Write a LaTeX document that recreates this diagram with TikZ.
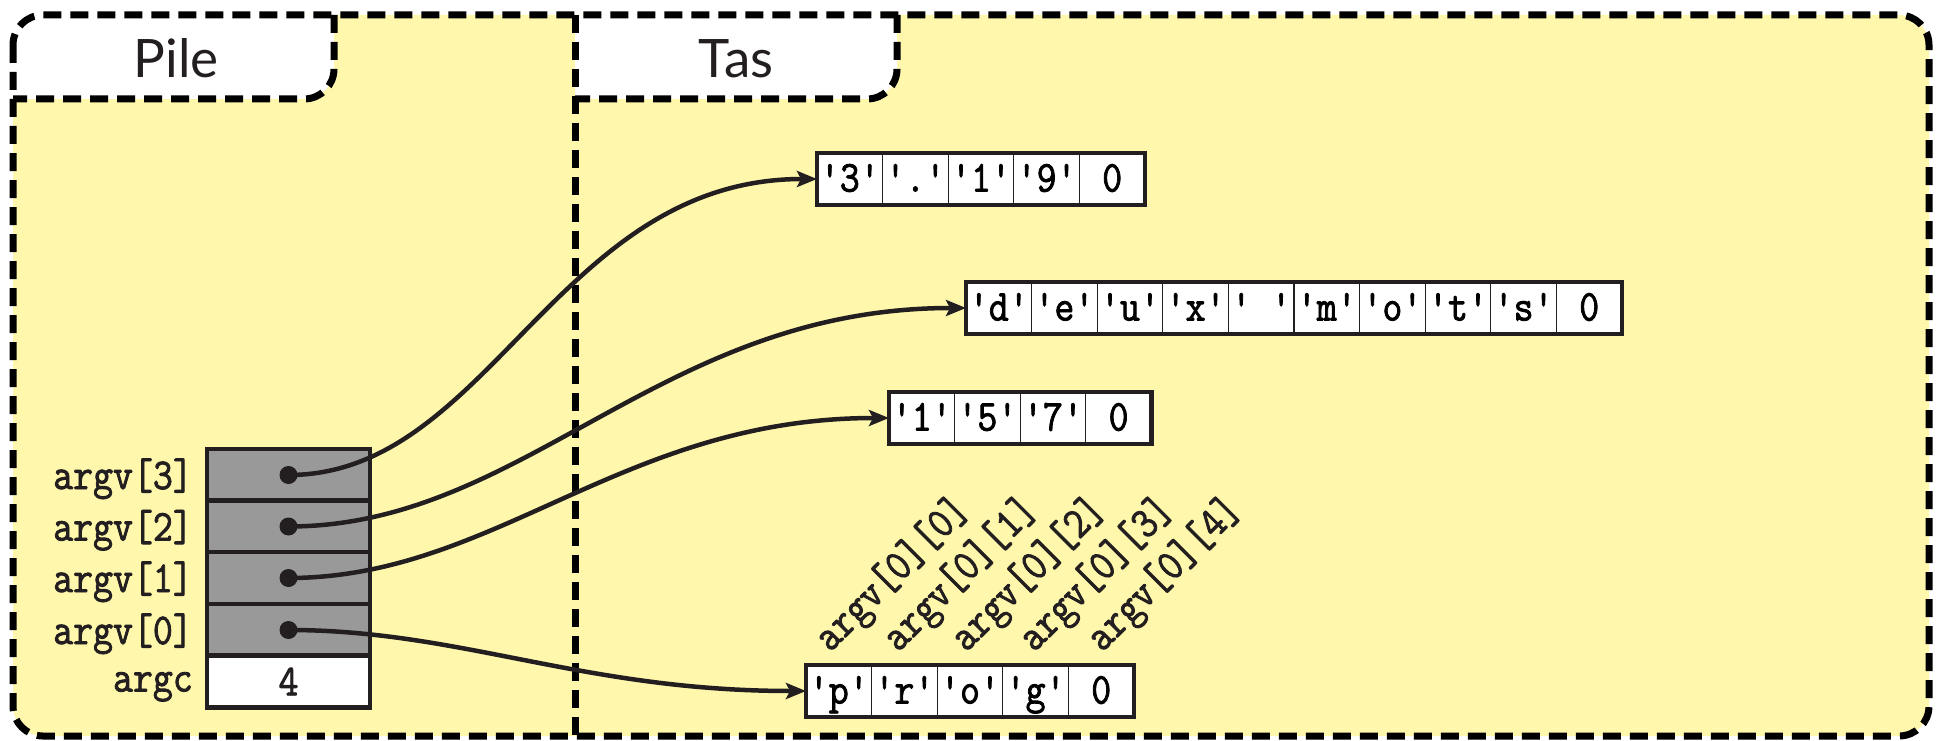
\documentclass[tikz,border=0pt]{standalone}
\usepackage{fontspec}
\usepackage{graphicx}
\setmonofont{Latin Modern Mono}[FakeBold=2]
\newfontfamily\tabfont{Lato}
\usetikzlibrary{arrows.meta}

\definecolor{heap}{RGB}{255,247,172}
\definecolor{ink}{RGB}{35,31,32}
\definecolor{slot}{RGB}{153,153,153}

% typewriter text, slightly narrowed
\newcommand\mono[1]{\scalebox{0.88}[1]{#1}}
\newcommand\chr[1]{\textquotesingle#1\textquotesingle}

\tikzset{
  zone/.style={draw=black, line width=7pt, dash pattern=on 18pt off 9pt},
  tt/.style={font=\fontsize{44}{46}\selectfont\ttfamily},
  slotcell/.style={draw=ink, line width=4.5pt, fill=slot, minimum width=163pt,
    minimum height=51.6pt, inner sep=0pt, outer sep=0pt},
  charcell/.style={draw=ink, line width=1.2pt, fill=white, minimum width=65.6pt,
    minimum height=52pt, inner sep=0pt, outer sep=0pt, tt,
    text height=25pt, text depth=0pt},
  strframe/.style={draw=ink, line width=4.5pt},
  dot/.style={circle, fill=ink, minimum size=18pt, inner sep=0pt},
  ptr/.style={draw=ink, line width=4.5pt, -{Stealth[length=20pt,width=16pt,inset=4pt]},
    out=0, in=180, out looseness=0.85, in looseness=1.1},
  slotlabel/.style={tt, anchor=base east, inner sep=0pt, text=ink},
  idxlabel/.style={tt, anchor=base west, inner sep=0pt, rotate=45, text=ink},
}

\begin{document}
\begin{tikzpicture}[x=1pt,y=-1pt]
\useasboundingbox (0,0) rectangle (1940,741);

% the two zones: stack and heap
\fill[heap, rounded corners=30pt] (13,15) rectangle (1929,736);

% tabs
\fill[white, rounded corners=30pt] (13,15) rectangle (334,99);
\fill[white] (13,15) rectangle (250,99);
\fill[white] (13,15) rectangle (334,60);
\fill[white, rounded corners=30pt] (575,15) rectangle (897,99);
\fill[white] (575,15) rectangle (800,99);
\fill[white] (575,15) rectangle (897,60);
\draw[zone, rounded corners=30pt] (334,15) -- (334,99) -- (13,99);
\draw[zone, rounded corners=30pt] (897,15) -- (897,99) -- (575,99);
\node[font=\fontsize{53}{55}\selectfont\tabfont, text=ink, anchor=base] (pile) at (176,78) {Pile};
\node[font=\fontsize{53}{55}\selectfont\tabfont, text=ink, anchor=base] (tas) at (736,78) {Tas};

\draw[zone] (575,15) -- (575,736);
\draw[zone, rounded corners=30pt] (13,15) rectangle (1929,736);

% stack slots
\node[slotcell] (a3) at (288.5,475) {};
\node[slotcell] (a2) at (288.5,526.5) {};
\node[slotcell] (a1) at (288.5,578) {};
\node[slotcell] (a0) at (288.5,630) {};
\node[slotcell, fill=white, tt, text=ink] (argc) at (288.5,681.5) {\mono{4}};

\node[slotlabel] (l3) at (193,489) {\mono{argv[3]}};
\node[slotlabel] (l2) at (193,540.5) {\mono{argv[2]}};
\node[slotlabel] (l1) at (193,592) {\mono{argv[1]}};
\node[slotlabel] (l0) at (193,644) {\mono{argv[0]}};
\node[slotlabel] (lc) at (193,691.5) {\mono{argc}};

% strings on the heap
\foreach \t [count=\i] in {{\chr3},{\chr.},{\chr1},{\chr9},0}
  \node[charcell] (s1-\i) at ({817+32.8+65.6*(\i-1)},179) {\mono{\t}};
\draw[strframe] (s1-1.north west) rectangle (s1-5.south east);

\foreach \t [count=\i] in {{\chr d},{\chr e},{\chr u},{\chr x},{\chr{\hphantom{x}}},{\chr m},{\chr o},{\chr t},{\chr s},0}
  \node[charcell] (s2-\i) at ({966+32.8+65.6*(\i-1)},308) {\mono{\t}};
\draw[strframe] (s2-1.north west) rectangle (s2-10.south east);

\foreach \t [count=\i] in {{\chr1},{\chr5},{\chr7},0}
  \node[charcell] (s3-\i) at ({889+32.8+65.6*(\i-1)},418) {\mono{\t}};
\draw[strframe] (s3-1.north west) rectangle (s3-4.south east);

\foreach \t [count=\i] in {{\chr p},{\chr r},{\chr o},{\chr g},0}
  \node[charcell] (s4-\i) at ({806+32.8+65.6*(\i-1)},691) {\mono{\t}};
\draw[strframe] (s4-1.north west) rectangle (s4-5.south east);

% index labels above argv[0]
\foreach \k in {0,...,4}
  \node[idxlabel] (i\k) at ({830+68*\k},653) {\mono{argv[0][\k]}};

% pointers
\draw[ptr] (a3.center) to (s1-1.west);
\draw[ptr] (a2.center) to (s2-1.west);
\draw[ptr] (a1.center) to (s3-1.west);
\draw[ptr] (a0.center) to (s4-1.west);

\node[dot] (d3) at (a3.center) {};
\node[dot] (d2) at (a2.center) {};
\node[dot] (d1) at (a1.center) {};
\node[dot] (d0) at (a0.center) {};
\end{tikzpicture}
\end{document}
